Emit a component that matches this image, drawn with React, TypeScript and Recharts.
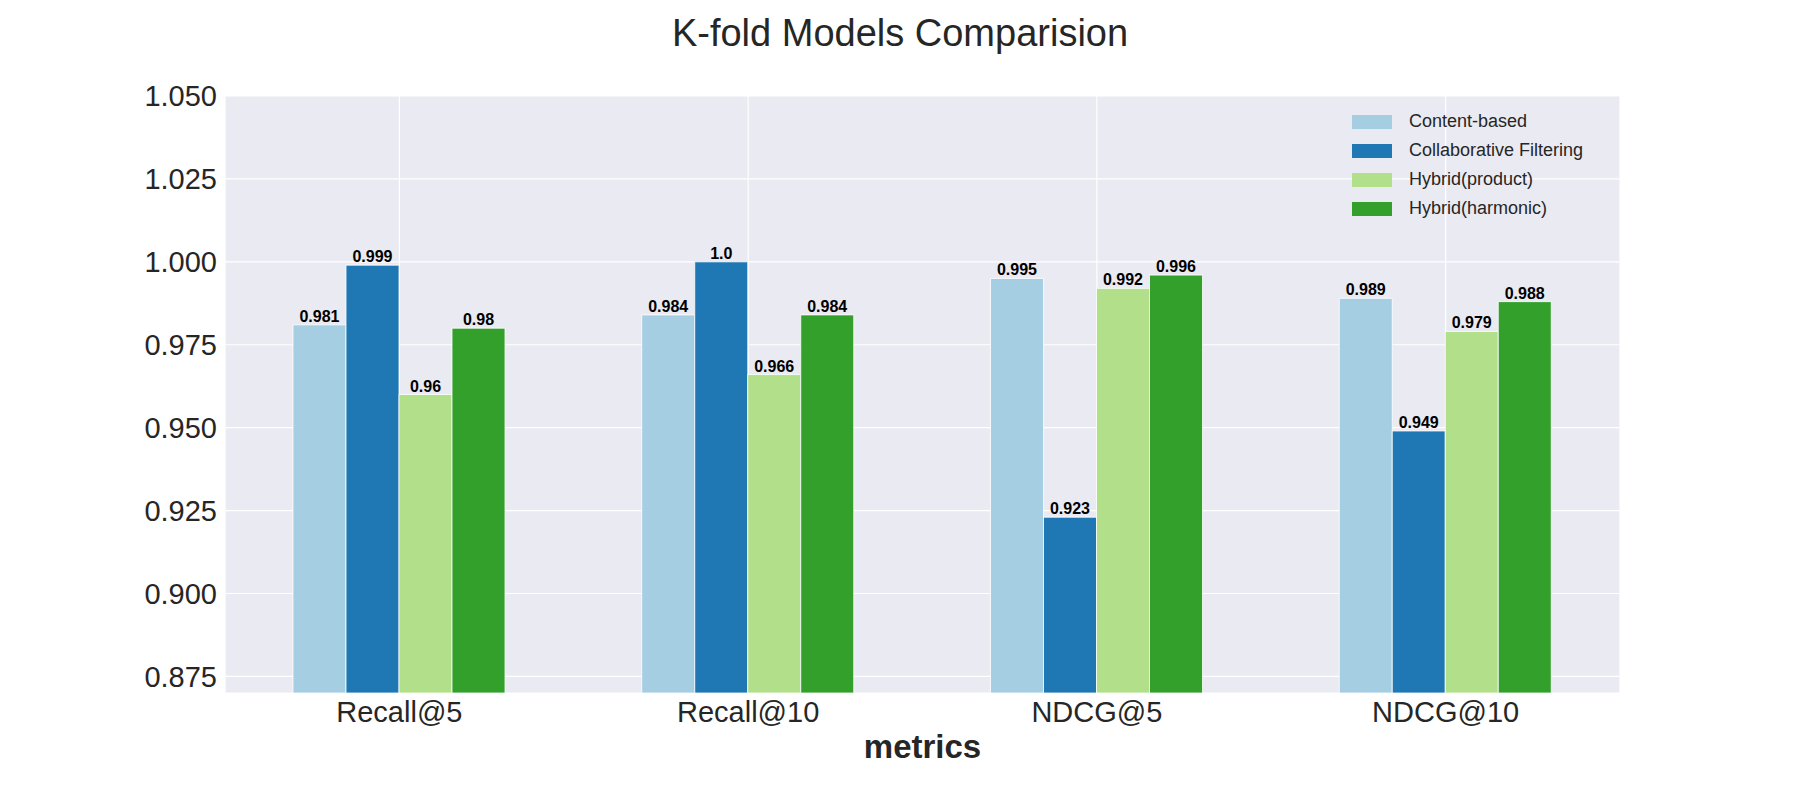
import React from 'react';
import { BarChart, Bar, XAxis, YAxis, CartesianGrid, LabelList } from 'recharts';

const metrics = ['Recall@5', 'Recall@10', 'NDCG@5', 'NDCG@10'];
const contentBased = [0.981, 0.984, 0.995, 0.989];
const collaborative = [0.999, 1.0, 0.923, 0.949];
const hybridProduct = [0.96, 0.966, 0.992, 0.979];
const hybridHarmonic = [0.98, 0.984, 0.996, 0.988];
const yTicks = [0.875, 0.9, 0.925, 0.95, 0.975, 1.0, 1.025, 1.05];

const series = [
  { key: 'cb', name: 'Content-based', color: '#a6cee3' },
  { key: 'cf', name: 'Collaborative Filtering', color: '#1f78b4' },
  { key: 'hp', name: 'Hybrid(product)', color: '#b2df8a' },
  { key: 'hh', name: 'Hybrid(harmonic)', color: '#33a02c' },
];

const data = metrics.map((m, i) => ({
  metric: m,
  cb: contentBased[i],
  cf: collaborative[i],
  hp: hybridProduct[i],
  hh: hybridHarmonic[i],
}));

const font = 'Arial, "Liberation Sans", sans-serif';

const App = () => {
  return (
    <div style={{ position: 'absolute', left: 0, top: 0, width: 1800, height: 792, background: '#fff', fontFamily: font }}>
      <div style={{ position: 'absolute', top: 12, width: 1800, textAlign: 'center', fontSize: 38, color: '#262626' }}>
        K-fold Models Comparision
      </div>
      <BarChart
        width={1800}
        height={792}
        data={data}
        margin={{ top: 96, right: 180, left: 125, bottom: 49 }}
        barCategoryGap="19.5%"
        barGap={0}
      >
        <CartesianGrid fill="#eaeaf2" stroke="#ffffff" strokeWidth={1.2} />
        <XAxis
          dataKey="metric"
          height={50}
          axisLine={false}
          tickLine={false}
          tick={{ fill: '#262626', fontSize: 29 }}
        />
        <YAxis
          width={100}
          domain={[0.87, 1.05]}
          ticks={yTicks}
          allowDataOverflow
          axisLine={false}
          tickLine={false}
          tickFormatter={(v: number) => v.toFixed(3)}
          tick={{ fill: '#262626', fontSize: 29 }}
        />
        {series.map((s) => (
          <Bar key={s.key} dataKey={s.key} name={s.name} fill={s.color} stroke="#ffffff" strokeWidth={0.8} isAnimationActive={false}>
            <LabelList
              dataKey={s.key}
              position="top"
              offset={3}
              formatter={(v: number) => (v === 1 ? '1.0' : String(v))}
              style={{ fill: '#000', fontSize: 16, fontWeight: 'bold' }}
            />
          </Bar>
        ))}
      </BarChart>
      <div style={{ position: 'absolute', top: 107, left: 1352, fontSize: 18, color: '#262626' }}>
        {series.map((s) => (
          <div key={s.key} style={{ display: 'flex', alignItems: 'center', height: 29 }}>
            <span style={{ width: 40, height: 14, background: s.color, marginRight: 17, display: 'inline-block' }} />
            {s.name}
          </div>
        ))}
      </div>
      <div style={{ position: 'absolute', top: 728, width: 1800, paddingLeft: 45, boxSizing: 'border-box', textAlign: 'center', fontSize: 33, fontWeight: 'bold', color: '#262626' }}>
        metrics
      </div>
    </div>
  );
};

export default App;
